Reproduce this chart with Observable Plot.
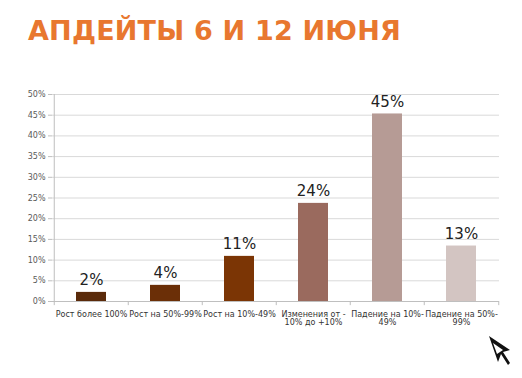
<!DOCTYPE html>
<html><head><meta charset="utf-8">
<script src="https://cdn.jsdelivr.net/npm/d3@7"></script>
<script src="https://cdn.jsdelivr.net/npm/@observablehq/plot@0.6"></script>
<style>
body{margin:0;background:#fff;width:522px;height:378px;position:relative;overflow:hidden;font-family:"DejaVu Sans",sans-serif;}
#title{position:absolute;left:28px;top:15px;font:bold 27px "DejaVu Sans",sans-serif;color:#e8772f;letter-spacing:0.2px;white-space:nowrap;}
#chart{position:absolute;left:0;top:60px;}
#logo{position:absolute;left:486px;top:334px;}
</style></head>
<body>
<div id="title">АПДЕЙТЫ 6 И 12 ИЮНЯ</div>
<div id="chart"></div>
<svg id="logo" width="26" height="34" viewBox="0 0 26 34"><path d="M3 2 L12 28 L15 20 L22 31 L24 29 L17 18 L24 16 Z" fill="#111"/><path d="M7 9 L11 20 L17 16 Z" fill="#fff"/></svg>
<script>
const categories = ["Рост более 100%", "Рост на 50%-99%", "Рост на 10%-49%", "Изменения от -\n10% до +10%", "Падение на 10%-\n49%", "Падение на 50%-\n99%"];
const values = [2.2, 3.9, 10.9, 23.7, 45.3, 13.4];
const labels = ["2%", "4%", "11%", "24%", "45%", "13%"];
const colors = ["#5a2a0a", "#6b2f07", "#7b3505", "#9a6a5e", "#b69b95", "#d3c5c2"];
const yTicks = [0, 5, 10, 15, 20, 25, 30, 35, 40, 45, 50];

const data = categories.map((c, i) => ({cat: c, v: values[i], label: labels[i], color: colors[i]}));

const W = 522, ML = 52, MR = 23;
const half = (W - ML - MR) / categories.length / 2;

const chart = Plot.plot({
  width: W,
  height: 280,
  marginLeft: ML,
  marginRight: MR,
  marginTop: 34,
  marginBottom: 39,
  style: {fontFamily: "DejaVu Sans, sans-serif", background: "transparent"},
  x: {domain: categories, paddingInner: 0.6, paddingOuter: 0.3, label: null},
  y: {domain: [0, 50], label: null},
  marks: [
    Plot.gridY(yTicks, {stroke: "#d9d9d9", strokeOpacity: 1}),
    Plot.axisY(yTicks, {tickFormat: d => d + "%", tickSize: 4, tickPadding: 3, fontSize: 8, fill: "#595959", stroke: "#bfbfbf"}),
    Plot.ruleX([categories[0]], {y1: 0, y2: 50, dx: -half, stroke: "#bfbfbf"}),
    Plot.barY(data, {x: "cat", y: "v", fill: "color"}),
    Plot.text(data, {x: "cat", y: "v", text: "label", dy: -12, fontSize: 15, fill: "#222"}),
    Plot.ruleY([0], {stroke: "#bfbfbf"}),
    Plot.ruleX(categories, {y1: -1, y2: 0, dx: -half, stroke: "#bfbfbf"}),
    Plot.ruleX([categories[categories.length - 1]], {y1: -1, y2: 0, dx: half, stroke: "#bfbfbf"}),
    Plot.axisX({tickSize: 0, tickPadding: 10, fontSize: 8, fill: "#333", lineWidth: 20})
  ]
});
document.getElementById("chart").appendChild(chart);
</script>
</body></html>
